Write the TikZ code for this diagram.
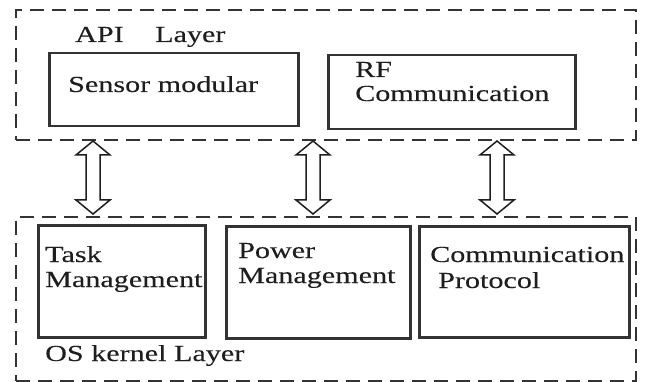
\documentclass[tikz,border=0pt]{standalone}
\usepackage{fontspec}
\setmainfont{Liberation Serif}
\newfontfamily\wfont[FakeStretch=1.31,FakeBold=0.15]{Liberation Serif}
\usetikzlibrary{calc}
\definecolor{ink}{HTML}{1E1E1E}
\definecolor{edge}{HTML}{333333}
\begin{document}
\begin{tikzpicture}[x=1pt,y=-1pt,
  layerbox/.style={draw=edge,line width=2pt,dash pattern=on 14pt off 8pt,inner sep=0pt,anchor=north west},
  modbox/.style={draw=edge,line width=2.5pt,inner sep=0pt,anchor=north west},
  lbl/.style={inner sep=0pt,anchor=base west,text=ink,font=\wfont\fontsize{23}{27}\selectfont},
  dblarrow/.style={draw=ink,line width=1.5pt,fill=white,line join=miter}]
\useasboundingbox (0,0) rectangle (645,382);
% layers
\node[layerbox,minimum width=620pt,minimum height=130pt] (api) at (15,9) {};
\node[layerbox,minimum width=620pt,minimum height=164pt] (os) at (15,216) {};
% API modules
\node[modbox,minimum width=249pt,minimum height=73pt] (sensor) at (48,52) {};
\node[modbox,minimum width=247pt,minimum height=74pt] (rf) at (327,54) {};
% OS modules
\node[modbox,minimum width=167pt,minimum height=112pt] (task) at (37,224) {};
\node[modbox,minimum width=184pt,minimum height=112pt] (power) at (225,225) {};
\node[modbox,minimum width=210pt,minimum height=111pt] (comm) at (418,225) {};
% labels
\node[lbl] (apil1) at (75,42) {API};
\node[lbl] (apil2) at (155,42) {Layer};
\node[lbl] (sensorl) at (68,92) {Sensor modular};
\node[lbl] (rfl1) at (355,77) {RF};
\node[lbl] (rfl2) at (355,101) {Communication};
\node[lbl] (taskl1) at (45,262) {Task};
\node[lbl] (taskl2) at (45,287) {Management};
\node[lbl] (powerl1) at (238,258) {Power};
\node[lbl] (powerl2) at (238,283) {Management};
\node[lbl] (comml1) at (430,262) {Communication};
\node[lbl] (comml2) at (438,288) {Protocol};
\node[lbl] (osl) at (45,361) {OS kernel Layer};
% arrow end points
\coordinate (t1) at (93,141);  \coordinate (b1) at (93,214);
\coordinate (t2) at (313,141); \coordinate (b2) at (313,214);
\coordinate (t3) at (497,141); \coordinate (b3) at (497,214);
\foreach \i in {1,2,3}{
  \draw[dblarrow] (t\i) -- ($(t\i)+(17,14)$) -- ($(t\i)+(7,14)$) -- ($(b\i)+(7,-14)$)
    -- ($(b\i)+(17,-14)$) -- (b\i) -- ($(b\i)+(-17,-14)$) -- ($(b\i)+(-7,-14)$)
    -- ($(t\i)+(-7,14)$) -- ($(t\i)+(-17,14)$) -- cycle;
}
\end{tikzpicture}
\end{document}
